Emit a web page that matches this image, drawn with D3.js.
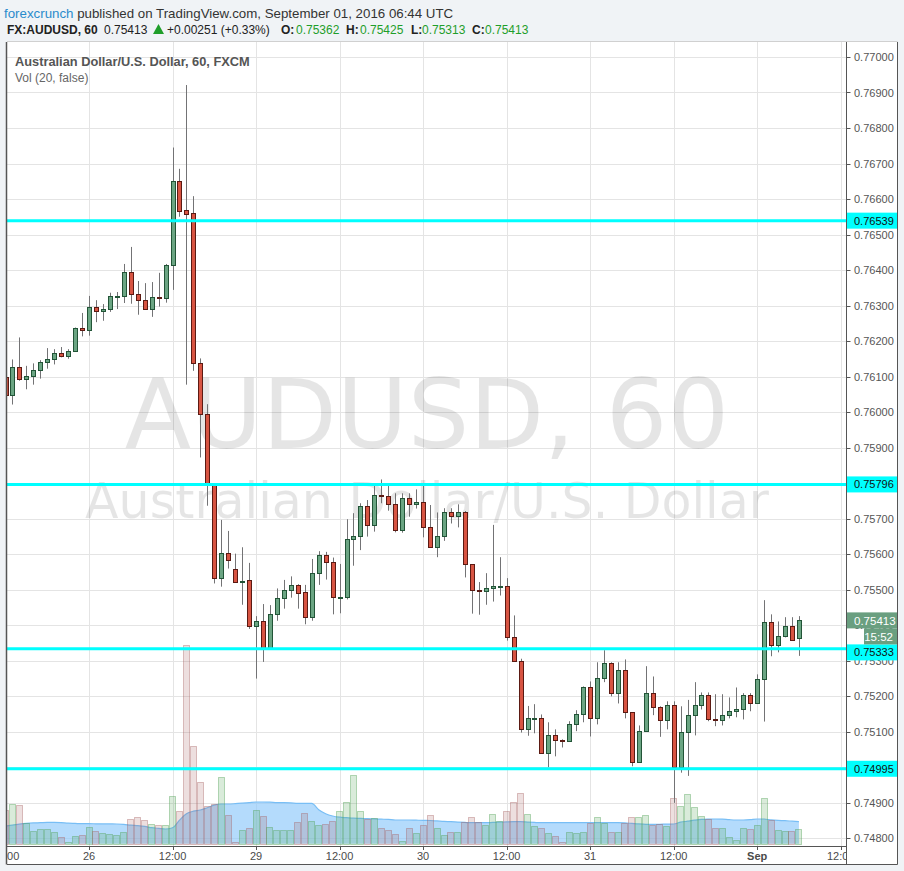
<!DOCTYPE html>
<html><head><meta charset="utf-8">
<script src="https://cdn.jsdelivr.net/npm/d3@7"></script>
<style>
html,body{margin:0;padding:0;background:#f0f3f6;}
svg{display:block;}
</style></head><body>
<svg id="chart" width="904" height="871"></svg>
<script>
// ---------- DATA (hourly candles, Aug 25 12:00 -> Sep 1 06:00) ----------
const opens = [0.76099,0.76047,0.76128,0.76092,0.76101,0.76117,0.76140,0.76150,0.76165,0.76157,
0.76171,0.76236,0.76230,0.76295,0.76284,0.76291,0.76326,0.76327,0.76394,0.76333,
0.76315,0.76291,0.76323,0.76322,0.76413,0.76650,0.76568,0.76560,0.76137,0.75993,
0.75797,0.75533,0.75602,0.75557,0.75522,0.75526,0.75396,0.75410,0.75332,0.75430,
0.75475,0.75498,0.75512,0.75492,0.75422,0.75546,0.75596,0.75577,0.75478,0.75479,
0.75641,0.75650,0.75734,0.75681,0.75765,0.75762,0.75740,0.75667,0.75757,0.75740,
0.75746,0.75675,0.75619,0.75650,0.75717,0.75706,0.75717,0.75571,0.75499,0.75497,
0.75503,0.75509,0.75510,0.75365,0.75298,0.75106,0.75137,0.75137,0.75039,0.75089,
0.75075,0.75074,0.75120,0.75148,0.75224,0.75137,0.75250,0.75292,0.75208,0.75272,
0.75154,0.75013,0.75101,0.75208,0.75168,0.75131,0.75174,0.74999,0.75098,0.75146,
0.75174,0.75202,0.75134,0.75131,0.75146,0.75157,0.75162,0.75202,0.75179,0.75247,
0.75408,0.75343,0.75368,0.75396,0.75362];
const highs = [0.76141,0.76148,0.76210,0.76130,0.76137,0.76146,0.76180,0.76177,0.76183,0.76177,
0.76238,0.76279,0.76327,0.76315,0.76304,0.76336,0.76338,0.76417,0.76465,0.76369,
0.76363,0.76366,0.76392,0.76417,0.76745,0.76685,0.76921,0.76608,0.76151,0.76022,
0.75800,0.75696,0.75665,0.75601,0.75619,0.75575,0.75425,0.75459,0.75456,0.75503,
0.75527,0.75537,0.75515,0.75513,0.75586,0.75608,0.75606,0.75590,0.75572,0.75698,
0.75715,0.75743,0.75752,0.75794,0.75810,0.75794,0.75771,0.75771,0.75771,0.75782,
0.75794,0.75738,0.75717,0.75729,0.75729,0.75740,0.75721,0.75571,0.75521,0.75546,
0.75682,0.75591,0.75532,0.75427,0.75305,0.75172,0.75177,0.75148,0.75126,0.75106,
0.75078,0.75129,0.75160,0.75227,0.75241,0.75295,0.75329,0.75295,0.75295,0.75303,
0.75154,0.75117,0.75284,0.75255,0.75171,0.75185,0.75185,0.75171,0.75189,0.75239,
0.75210,0.75210,0.75205,0.75205,0.75196,0.75224,0.75208,0.75208,0.75261,0.75470,
0.75430,0.75410,0.75422,0.75422,0.75425];
const lows = [0.76039,0.76021,0.76088,0.76064,0.76077,0.76094,0.76122,0.76134,0.76154,0.76150,
0.76169,0.76213,0.76215,0.76253,0.76257,0.76282,0.76290,0.76307,0.76305,0.76274,
0.76288,0.76268,0.76297,0.76308,0.76344,0.76550,0.76077,0.76116,0.75872,0.75736,
0.75517,0.75508,0.75559,0.75519,0.75457,0.75389,0.75249,0.75296,0.75330,0.75412,
0.75446,0.75477,0.75446,0.75402,0.75412,0.75513,0.75528,0.75430,0.75433,0.75472,
0.75567,0.75611,0.75649,0.75663,0.75743,0.75722,0.75661,0.75660,0.75705,0.75728,
0.75647,0.75619,0.75591,0.75637,0.75686,0.75675,0.75534,0.75432,0.75429,0.75457,
0.75466,0.75483,0.75356,0.75298,0.75097,0.75088,0.75095,0.75039,0.74999,0.75030,
0.75055,0.75074,0.75101,0.75126,0.75086,0.75120,0.75239,0.75199,0.75179,0.75137,
0.75002,0.75013,0.75101,0.75146,0.75085,0.75106,0.74899,0.74984,0.74975,0.75089,
0.75162,0.75129,0.75115,0.75117,0.75137,0.75140,0.75134,0.75157,0.75179,0.75128,
0.75312,0.75323,0.75365,0.75357,0.75313];
const closes = [0.76048,0.76128,0.76092,0.76101,0.76117,0.76140,0.76150,0.76165,0.76157,0.76171,
0.76236,0.76230,0.76295,0.76284,0.76291,0.76326,0.76327,0.76394,0.76333,0.76315,
0.76291,0.76323,0.76322,0.76413,0.76650,0.76567,0.76559,0.76137,0.75993,0.75797,
0.75533,0.75602,0.75584,0.75522,0.75524,0.75396,0.75410,0.75332,0.75430,0.75475,
0.75498,0.75512,0.75491,0.75422,0.75546,0.75596,0.75577,0.75478,0.75479,0.75641,
0.75650,0.75734,0.75681,0.75765,0.75762,0.75740,0.75667,0.75757,0.75740,0.75746,
0.75675,0.75619,0.75650,0.75717,0.75706,0.75717,0.75571,0.75499,0.75497,0.75503,
0.75509,0.75510,0.75365,0.75298,0.75106,0.75137,0.75138,0.75039,0.75089,0.75075,
0.75074,0.75120,0.75148,0.75224,0.75137,0.75250,0.75292,0.75208,0.75272,0.75154,
0.75013,0.75101,0.75208,0.75168,0.75131,0.75174,0.74999,0.75098,0.75146,0.75174,
0.75202,0.75134,0.75131,0.75146,0.75157,0.75162,0.75202,0.75179,0.75247,0.75408,
0.75343,0.75368,0.75396,0.75357,0.75413];
const volumes = [673,793,773,407,253,293,293,227,127,33,
147,173,333,253,213,193,173,233,493,533,
467,393,373,373,953,653,3973,1953,1233,747,
793,1333,573,40,273,313,673,553,333,273,
273,273,433,613,453,373,393,453,653,833,
1373,653,493,513,313,273,193,53,313,213,
373,573,307,167,227,227,427,527,427,373,
593,447,647,827,1007,593,347,313,207,147,
40,227,220,227,413,527,413,227,227,413,
527,527,573,373,393,353,913,753,987,727,
553,487,307,307,127,73,307,287,373,907,
473,267,247,247,287];
const volumeMA = [354,370,390,405,415,420,426,425,420,410,
405,400,400,398,396,395,394,385,370,360,
345,320,306,294,320,470,600,650,674,720,
770,794,794,800,810,822,834,834,830,822,
820,815,806,806,806,680,600,554,530,520,
510,506,500,495,490,485,474,474,474,470,
466,464,455,445,440,432,425,420,420,420,
425,430,436,440,440,432,425,420,420,420,
420,420,420,420,420,420,420,420,420,415,
405,395,388,386,388,392,394,430,450,470,
486,492,494,490,480,474,474,480,494,494,
475,465,460,450,440];
const timeLabels = ["12:00","26","12:00","29","12:00","30","12:00","31","12:00","Sep","12:00"];
const timeLabelIndex = [0,12,24,36,48,60,72,84,96,108,120];
const priceTicks = [0.748,0.749,0.750,0.751,0.752,0.753,0.754,0.755,0.756,0.757,0.758,0.759,
0.760,0.761,0.762,0.763,0.764,0.765,0.766,0.767,0.768,0.769,0.770];
const levelLines = [0.76539,0.75796,0.75333,0.74995];
const lastPrice = 0.75413, lastChange = "+0.00251 (+0.33%)", countdown = "15:52";

// ---------- LAYOUT ----------
const svg = d3.select("#chart");
const L = 7, R = 846.5, T = 42, B = 846, OR = 897.5, OB = 864.5;
const FONT = "'Liberation Sans', Arial, sans-serif";

const x = d3.scaleLinear().domain([0, 114]).range([5.5, 5.5 + 114 * 6.96]);
const y = d3.scaleLinear().domain([0.748, 0.770]).range([838, 57]);
const yv = d3.scaleLinear().domain([0, 4000]).range([843.7, 643.7]);
const slot = x(1) - x(0);

svg.append("rect").attr("width", 904).attr("height", 871).attr("fill", "#f0f3f6");
svg.append("rect").attr("x", L).attr("y", T).attr("width", OR - L).attr("height", OB - T).attr("fill", "#fff");

// header
const h1 = svg.append("text").attr("x", 4).attr("y", 18).attr("font-family", FONT).attr("font-size", 13.3);
h1.append("tspan").attr("fill", "#2a8bcc").text("forexcrunch");
h1.append("tspan").attr("fill", "#333").text(" published on TradingView.com, September 01, 2016 06:44 UTC");

const h2 = svg.append("text").attr("y", 34).attr("font-family", FONT).attr("font-size", 12).attr("fill", "#222");
const green = "#1f9e2a";
const pieces = [
  {t: "FX:AUDUSD, 60", x: 7, w: "bold", c: "#222"},
  {t: lastPrice.toFixed(5), x: 104, w: "normal", c: "#222"},
  {t: lastChange, x: 167, w: "normal", c: "#222"},
  {t: "O:", x: 281, w: "bold", c: "#222"},
  {t: opens[114].toFixed(5), x: 296, w: "normal", c: green},
  {t: "H:", x: 346, w: "bold", c: "#222"},
  {t: highs[114].toFixed(5), x: 360, w: "normal", c: green},
  {t: "L:", x: 411, w: "bold", c: "#222"},
  {t: lows[114].toFixed(5), x: 422, w: "normal", c: green},
  {t: "C:", x: 472, w: "bold", c: "#222"},
  {t: closes[114].toFixed(5), x: 485, w: "normal", c: green}
];
pieces.forEach(p => h2.append("tspan").attr("x", p.x).attr("font-weight", p.w).attr("fill", p.c).text(p.t));
svg.append("path").attr("d", "M153,34 L158.5,24 L164,34 Z").attr("fill", green);

// clip
const defs = svg.append("defs");
defs.append("clipPath").attr("id", "plot").append("rect").attr("x", L).attr("y", T).attr("width", R - L).attr("height", B - T);
defs.append("clipPath").attr("id", "taxis").append("rect").attr("x", L).attr("y", B).attr("width", R - L).attr("height", OB - B);

const plot = svg.append("g").attr("clip-path", "url(#plot)");

// grid
plot.selectAll(".hg").data(priceTicks).join("line")
  .attr("x1", L).attr("x2", R).attr("y1", d => Math.round(y(d)) + 0.5).attr("y2", d => Math.round(y(d)) + 0.5)
  .attr("stroke", "#e4e4e4").attr("stroke-width", 1);
plot.selectAll(".vg").data(timeLabelIndex).join("line")
  .attr("y1", T).attr("y2", B).attr("x1", d => Math.round(x(d)) + 0.5).attr("x2", d => Math.round(x(d)) + 0.5)
  .attr("stroke", "#e4e4e4").attr("stroke-width", 1);

// watermark
plot.append("text").attr("x", 427).attr("y", 448).attr("text-anchor", "middle")
  .attr("font-family", "'DejaVu Sans', sans-serif").attr("font-size", 97).attr("fill", "#000").attr("fill-opacity", 0.1)
  .text("AUDUSD, 60");
plot.append("text").attr("x", 427).attr("y", 518).attr("text-anchor", "middle")
  .attr("font-family", "'DejaVu Sans', sans-serif").attr("font-size", 49).attr("fill", "#000").attr("fill-opacity", 0.1)
  .text("Australian Dollar/U.S. Dollar");

// legend texts
plot.append("text").attr("x", 15).attr("y", 66).attr("font-family", FONT).attr("font-size", 12.8)
  .attr("font-weight", "bold").attr("fill", "#555").text("Australian Dollar/U.S. Dollar, 60, FXCM");
plot.append("text").attr("x", 15).attr("y", 82).attr("font-family", FONT).attr("font-size", 12)
  .attr("fill", "#666").text("Vol (20, false)");

// volume MA area
const idx = d3.range(opens.length);
plot.append("path").datum(idx)
  .attr("d", d3.area().x(i => x(i)).y0(yv(0)).y1(i => yv(volumeMA[i])).curve(d3.curveMonotoneX))
  .attr("fill", "rgb(140,200,250)").attr("fill-opacity", 0.65);
plot.append("path").datum(idx)
  .attr("d", d3.line().x(i => x(i)).y(i => yv(volumeMA[i])).curve(d3.curveMonotoneX))
  .attr("fill", "none").attr("stroke", "rgb(120,190,245)").attr("stroke-width", 1.2);

// volume bars
plot.selectAll(".vb").data(idx).join("rect")
  .attr("x", i => Math.round(x(i) - slot / 2) + 0.5)
  .attr("width", Math.round(slot) - 1)
  .attr("y", i => Math.round(yv(volumes[i])) + 0.5)
  .attr("height", i => Math.max(0, Math.round(yv(0)) - Math.round(yv(volumes[i]))))
  .attr("fill", i => closes[i] >= opens[i] ? "rgba(80,165,85,0.22)" : "rgba(165,95,95,0.2)")
  .attr("stroke", i => closes[i] >= opens[i] ? "rgba(80,160,85,0.4)" : "rgba(165,95,95,0.38)")
  .attr("stroke-width", 1);

// candles
const cg = plot.append("g");
cg.selectAll(".wick").data(idx).join("line")
  .attr("x1", i => Math.round(x(i)) + 0.5).attr("x2", i => Math.round(x(i)) + 0.5)
  .attr("y1", i => y(highs[i])).attr("y2", i => y(lows[i]))
  .attr("stroke", "#737375").attr("stroke-width", 1);
cg.selectAll(".body").data(idx).join("rect")
  .attr("x", i => Math.round(x(i)) - 1.5).attr("width", 4)
  .attr("y", i => Math.round(y(Math.max(opens[i], closes[i]))) + 0.5)
  .attr("height", i => Math.max(1, Math.round(y(Math.min(opens[i], closes[i]))) - Math.round(y(Math.max(opens[i], closes[i])))))
  .attr("fill", i => closes[i] >= opens[i] ? "#6ba583" : "#d75442")
  .attr("stroke", i => closes[i] >= opens[i] ? "#225437" : "#5b1a13")
  .attr("stroke-width", 1);

// level lines
plot.selectAll(".lvl").data(levelLines).join("line")
  .attr("x1", L).attr("x2", R).attr("y1", d => y(d)).attr("y2", d => y(d))
  .attr("stroke", "#00ffff").attr("stroke-width", 3);

// time axis
const tax = svg.append("g").attr("clip-path", "url(#taxis)");
tax.selectAll("text").data(timeLabels).join("text")
  .attr("x", (d, i) => x(timeLabelIndex[i])).attr("y", 860)
  .attr("text-anchor", "middle").attr("font-family", FONT).attr("font-size", 11)
  .attr("font-weight", d => d === "Sep" ? "bold" : "normal")
  .attr("fill", "#4a4a4a").text(d => d);
tax.selectAll("line").data(timeLabelIndex).join("line")
  .attr("x1", d => Math.round(x(d)) + 0.5).attr("x2", d => Math.round(x(d)) + 0.5)
  .attr("y1", B).attr("y2", B + 4).attr("stroke", "#555");

// price axis
const pax = svg.append("g");
pax.selectAll("line").data(priceTicks).join("line")
  .attr("x1", R).attr("x2", R + 4).attr("y1", d => Math.round(y(d)) + 0.5).attr("y2", d => Math.round(y(d)) + 0.5)
  .attr("stroke", "#555");
pax.selectAll("text").data(priceTicks).join("text")
  .attr("x", 854).attr("y", d => y(d) + 4).attr("font-family", FONT).attr("font-size", 11)
  .attr("fill", "#555").text(d => d3.format(".5f")(d));

// level labels (pushed below the countdown box when they would collide)
const lastTop = y(lastPrice) - 8;
const cdTop = lastTop + 16, cdBottom = cdTop + 16;
levelLines.forEach(v => {
  let top = y(v) - 8;
  if (top < cdBottom && top + 16 > lastTop) top = cdBottom;
  svg.append("rect").attr("x", R + 0.5).attr("y", top).attr("width", OR - R - 1).attr("height", 16).attr("fill", "#00ffff");
  svg.append("text").attr("x", 854).attr("y", top + 12).attr("font-family", FONT).attr("font-size", 11)
    .attr("fill", "#111").text(v.toFixed(5));
});

// last price + countdown labels
const lastCol = "#6a9f80";
svg.append("rect").attr("x", R + 0.5).attr("y", lastTop).attr("width", OR - R - 1).attr("height", 16).attr("fill", lastCol);
svg.append("text").attr("x", 854).attr("y", lastTop + 12.5).attr("font-family", FONT).attr("font-size", 11.5)
  .attr("fill", "#fff").text(lastPrice.toFixed(5));
svg.append("rect").attr("x", 864).attr("y", cdTop).attr("width", OR - 864.5).attr("height", 16).attr("fill", lastCol);
svg.append("text").attr("x", 893).attr("y", cdTop + 12.5).attr("text-anchor", "end").attr("font-family", FONT)
  .attr("font-size", 11.5).attr("fill", "#fff").text(countdown);

// frame
svg.append("line").attr("x1", L).attr("x2", OR).attr("y1", T - 0.5).attr("y2", T - 0.5).attr("stroke", "#d0d0d0");
svg.append("line").attr("x1", L - 0.5).attr("x2", L - 0.5).attr("y1", T).attr("y2", OB).attr("stroke", "#555").attr("stroke-width", 1.5);
svg.append("line").attr("x1", OR).attr("x2", OR).attr("y1", T).attr("y2", OB).attr("stroke", "#555");
svg.append("line").attr("x1", L).attr("x2", OR).attr("y1", OB).attr("y2", OB).attr("stroke", "#555");
svg.append("line").attr("x1", R).attr("x2", R).attr("y1", T).attr("y2", OB).attr("stroke", "#555");
svg.append("line").attr("x1", L).attr("x2", R).attr("y1", B + 0.5).attr("y2", B + 0.5).attr("stroke", "#555");
</script>
</body></html>
